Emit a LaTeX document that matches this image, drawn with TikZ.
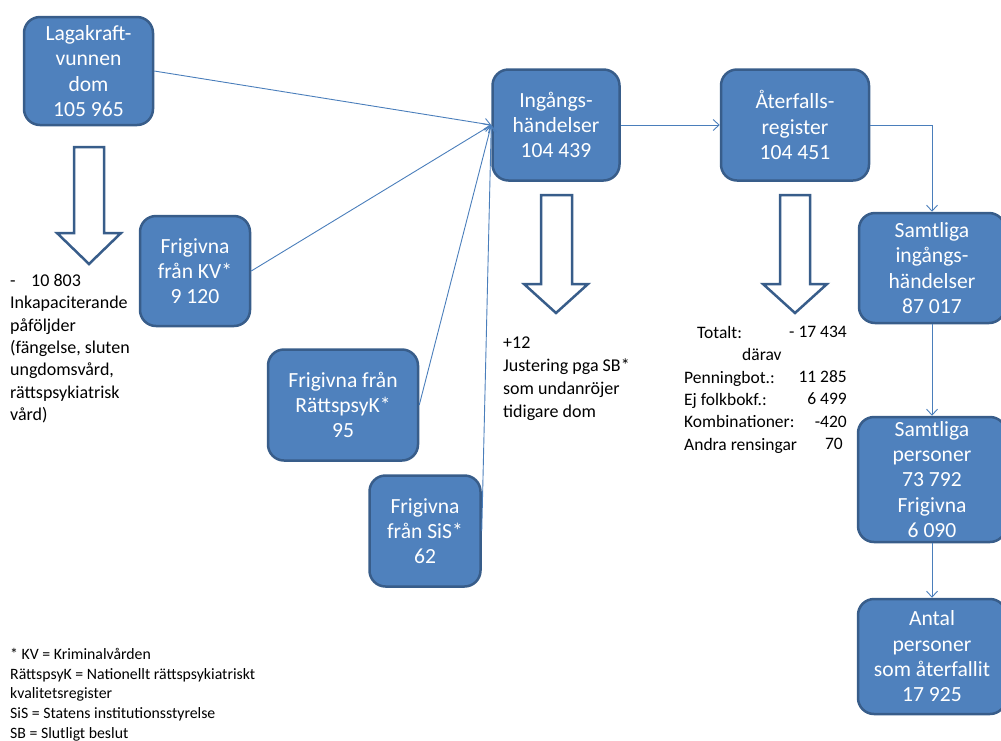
\documentclass[tikz,border=0pt]{standalone}
\usepackage{fontspec}
\setmainfont{Carlito}
\usetikzlibrary{arrows.meta}
\definecolor{boxfill}{HTML}{4F81BD}
\definecolor{boxline}{HTML}{385D8A}
\definecolor{connblue}{HTML}{4A7EBB}
\begin{document}
\begin{tikzpicture}[x=1pt,y=-1pt,
  bx/.style={draw=boxline, fill=boxfill, line width=2.5pt, rounded corners=16pt, text=white, align=center, inner sep=0pt, font=\fontsize{21.6}{25.3}\selectfont},
  conn/.style={draw=connblue, line width=0.9pt, -{Straight Barb[length=6pt,width=11pt]}},
  blockarrow/.style={draw=boxline, fill=white, line width=2.5pt, line join=miter},
  plain/.style={align=left, inner sep=0pt, anchor=north west, text=black},
  plainr/.style={align=right, inner sep=0pt, anchor=north east, text=black}
]
\useasboundingbox (0,0) rectangle (1001,740);
\clip (0,0) rectangle (1001,740);

% boxes
\node[bx, minimum width=129pt, minimum height=108pt] (b1) at (88.5,71) {Lagakraft-\\vunnen\\dom\\105 965};
\node[bx, minimum width=110pt, minimum height=110pt] (b2) at (195,271) {Frigivna\\från KV*\\9 120};
\node[bx, minimum width=150pt, minimum height=111pt] (b3) at (343,405) {Frigivna från\\RättspsyK*\\95};
\node[bx, minimum width=111pt, minimum height=111pt] (b4) at (425,531) {Frigivna\\från SiS*\\62};
\node[bx, minimum width=127pt, minimum height=111pt] (b5) at (556,125) {Ingångs-\\händelser\\104 439};
\node[bx, minimum width=148pt, minimum height=111pt] (b6) at (795,125) {Återfalls-\\register\\104 451};
\node[bx, minimum width=146pt, minimum height=110pt] (b7) at (932,268) {Samtliga\\ingångs-\\händelser\\87 017};
\node[bx, minimum width=148pt, minimum height=125pt] (b8) at (932,479.5) {Samtliga\\personer\\73 792\\Frigivna\\6 090};
\node[bx, minimum width=148pt, minimum height=115pt] (b9) at (932,656.5) {Antal\\personer\\som återfallit\\17 925};

% connectors
\draw[conn] (b1.east) -- (b5.west);
\draw[conn] (b2.east) -- (b5.west);
\draw[conn] (b3.east) -- (b5.west);
\draw[conn] (b4.east) -- (b5.west);
\draw[conn] (b5.east) -- (b6.west);
\draw[conn] (b6.east) -| (b7.north);
\draw[conn] (b7.south) -- (b8.north);
\draw[conn] (b8.south) -- (b9.north);

% block arrows
\draw[blockarrow] (74,147) -- (104,147) -- (104,233) -- (121,233) -- (89,264) -- (57,233) -- (74,233) -- cycle;
\draw[blockarrow] (541,195) -- (572,195) -- (572,284) -- (588,284) -- (556,313) -- (524,284) -- (541,284) -- cycle;
\draw[blockarrow] (780,195) -- (810,195) -- (810,284) -- (827,284) -- (795,313) -- (763,284) -- (780,284) -- cycle;

% texts
\node[plain, font=\fontsize{18}{22.3}\selectfont] (t1) at (10,274) {-\hspace{15.5pt}10 803\\Inkapaciterande\\påföljder\\(fängelse, sluten\\ungdomsvård,\\rättspsykiatrisk\\vård)};
\node[plain, font=\fontsize{18}{22.8}\selectfont] (t2) at (503,337) {+12\\Justering pga SB*\\som undanröjer\\tidigare dom};
\node[plain, font=\fontsize{17.5}{22.4}\selectfont] (t3) at (684,326) {\hspace*{13pt}Totalt:\\\hspace*{58pt}därav\\Penningbot.:\\Ej folkbokf.:\\Kombinationer:\\Andra rensingar};
\node[plainr, font=\fontsize{17.5}{22.4}\selectfont] (t3v) at (847,326) {- 17 434\\\strut\\11 285\\6 499\hspace*{1pt}\\-420\hspace*{4pt}\\70\hspace*{4pt}};
\node[plain, font=\fontsize{15.8}{19.7}\selectfont] (t4) at (10,648) {* KV = Kriminalvården\\RättspsyK = Nationellt rättspsykiatriskt\\kvalitetsregister\\SiS = Statens institutionsstyrelse\\SB = Slutligt beslut};
\end{tikzpicture}
\end{document}
